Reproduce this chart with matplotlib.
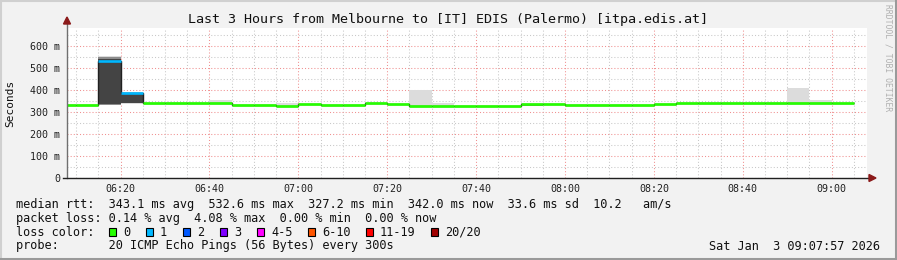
import numpy as np
import matplotlib
matplotlib.use('Agg')
import matplotlib.pyplot as plt
from matplotlib.patches import Rectangle, Polygon
from matplotlib.lines import Line2D
from matplotlib.ticker import MultipleLocator, FixedLocator, FixedFormatter

W, H = 897, 260
MONO = 'DejaVu Sans Mono'

# end time of each 5 minute sample
times = ["06:10", "06:15", "06:20", "06:25", "06:30", "06:35", "06:40", "06:45",
         "06:50", "06:55", "07:00", "07:05", "07:10", "07:15", "07:20", "07:25",
         "07:30", "07:35", "07:40", "07:45", "07:50", "07:55", "08:00", "08:05",
         "08:10", "08:15", "08:20", "08:25", "08:30", "08:35", "08:40", "08:45",
         "08:50", "08:55", "09:00", "09:05"]

# median rtt (seconds)
median = [0.332, 0.332, 0.5326, 0.387, 0.342, 0.342, 0.342, 0.342,
          0.331, 0.331, 0.328, 0.336, 0.331, 0.331, 0.339, 0.337,
          0.329, 0.328, 0.3272, 0.3272, 0.3272, 0.337, 0.337, 0.330,
          0.330, 0.330, 0.330, 0.336, 0.342, 0.342, 0.342, 0.342,
          0.342, 0.342, 0.342, 0.342]

# lost pings per sample (out of 20)
loss = [0, 0, 1, 1, 0, 0, 0, 0, 0, 0, 0, 0, 0, 0, 0, 0, 0, 0,
        0, 0, 0, 0, 0, 0, 0, 0, 0, 0, 0, 0, 0, 0, 0, 0, 0, 0]

nan = np.nan
# smoke: outer (light) band
light_lo = [nan, nan, 0.332, 0.338, nan, nan, nan, 0.340, nan, nan, 0.327, nan,
            nan, nan, nan, nan, 0.327, 0.326, nan, nan, nan, nan, 0.332, nan,
            nan, nan, nan, nan, nan, nan, nan, nan, nan, 0.340, 0.340, nan]
light_hi = [nan, nan, 0.556, 0.389, nan, nan, nan, 0.356, nan, nan, 0.341, nan,
            nan, nan, nan, nan, 0.401, 0.341, nan, nan, nan, nan, 0.338, nan,
            nan, nan, nan, nan, nan, nan, nan, nan, nan, 0.410, 0.354, nan]
# smoke: middle band
mid_lo = [nan, nan, 0.334, nan, nan, nan, nan, nan, nan, nan, nan, nan,
          nan, nan, nan, nan, nan, nan, nan, nan, nan, 0.329, nan, nan,
          nan, nan, nan, nan, nan, nan, nan, nan, nan, nan, nan, nan]
mid_hi = [nan, nan, 0.551, nan, nan, nan, nan, nan, nan, nan, nan, nan,
          nan, nan, nan, nan, nan, nan, nan, nan, nan, 0.336, nan, nan,
          nan, nan, nan, nan, nan, nan, nan, nan, nan, nan, nan, nan]
# smoke: dense (dark) band
dark_lo = [nan, nan, 0.335, 0.340, nan, nan, nan, nan, nan, nan, nan, nan,
           nan, nan, nan, 0.330, nan, nan, nan, nan, nan, nan, nan, nan,
           nan, nan, nan, nan, nan, nan, nan, nan, nan, nan, nan, nan]
dark_hi = [nan, nan, 0.541, 0.387, nan, nan, nan, nan, nan, nan, nan, nan,
           nan, nan, nan, 0.336, nan, nan, nan, nan, nan, nan, nan, nan,
           nan, nan, nan, nan, nan, nan, nan, nan, nan, nan, nan, nan]

loss_labels = ["0", "1", "2", "3", "4-5", "6-10", "11-19", "20/20"]
loss_colors = ['#26ff00', '#00b8ff', '#0059ff', '#7e00ff', '#ff00ff',
               '#ff5500', '#ff0000', '#a00000']
loss_bins = [0, 1, 2, 3, 5, 10, 19, 20]   # upper bound of each colour bucket

x_ticks = ["06:20", "06:40", "07:00", "07:20", "07:40", "08:00", "08:20", "08:40", "09:00"]
y_ticks = [0, 0.1, 0.2, 0.3, 0.4, 0.5, 0.6]
y_tick_labels = ["0", "100 m", "200 m", "300 m", "400 m", "500 m", "600 m"]

title = "Last 3 Hours from Melbourne to [IT] EDIS (Palermo) [itpa.edis.at]"
stat_lines = [
    "median rtt:  343.1 ms avg  532.6 ms max  327.2 ms min  342.0 ms now  33.6 ms sd  10.2   am/s",
    "packet loss: 0.14 % avg  4.08 % max  0.00 % min  0.00 % now",
]
probe_line = "probe:       20 ICMP Echo Pings (56 Bytes) every 300s"
stamp = "Sat Jan  3 09:07:57 2026"


def to_min(s):
    h, m = s.split(':')
    return int(h) * 60 + int(m)


def fx(x):
    return x / W


def fy(y):
    return 1 - y / H


t_end = np.array([to_min(t) for t in times], dtype=float)
t_start = t_end - 5
med = np.array(median)

fig = plt.figure(figsize=(W / 100, H / 100), dpi=100)
fig.patch.set_facecolor('#f2f2f2')

# plot area: x 67..867, y 28..178 (pixels)
ax = fig.add_axes([fx(67), fy(178), 800 / W, 150 / H])
ax.set_facecolor('white')
x_end = 9 * 60 + 7 + 57 / 60
ax.set_xlim(x_end - 180, x_end)
ax.set_ylim(0, 150 / 22 * 0.1)

# grid
ax.xaxis.set_major_locator(FixedLocator([to_min(t) for t in x_ticks]))
ax.xaxis.set_major_formatter(FixedFormatter(x_ticks))
ax.xaxis.set_minor_locator(MultipleLocator(5))
ax.yaxis.set_major_locator(FixedLocator(y_ticks))
ax.yaxis.set_major_formatter(FixedFormatter(y_tick_labels))
ax.yaxis.set_minor_locator(MultipleLocator(0.05))
ax.grid(which='minor', color='#c8c8c8', linestyle=(0, (1, 2)), linewidth=0.75)
ax.grid(which='major', color='#f09090', linestyle=(0, (1, 2)), linewidth=0.75)
ax.set_axisbelow(True)
ax.tick_params(which='both', length=0)
ax.tick_params(axis='y', pad=5, labelsize=7.2, labelcolor='#202020')
ax.tick_params(axis='x', pad=4, labelsize=7.2, labelcolor='#202020')
for lab in ax.get_xticklabels() + ax.get_yticklabels():
    lab.set_family(MONO)
for sp in ax.spines.values():
    sp.set_visible(False)


# smoke
def smoke(lo, hi, color):
    lo = np.array(lo)
    hi = np.array(hi)
    ok = ~np.isnan(lo)
    ax.bar(t_start[ok], hi[ok] - lo[ok], width=5, bottom=lo[ok], align='edge',
           color=color, linewidth=0, zorder=2)


smoke(light_lo, light_hi, '#dcdcdc')
smoke(mid_lo, mid_hi, '#8c8c8c')
smoke(dark_lo, dark_hi, '#444444')

# median: thin dark step line, then loss-coloured segments
edges = np.append(t_start[0], t_end)
ax.stairs(med, edges, baseline=None, color='#202020', linewidth=1.0, zorder=3)
colors = []
for l in loss:
    for b, c in zip(loss_bins, loss_colors):
        if l <= b:
            colors.append(c)
            break
ax.hlines(med, t_start, t_end, colors=colors, linewidth=1.9, zorder=4)

# axis lines with arrows
ax.add_artist(Line2D([0, 0], [0, 1 + 5 / 150], transform=ax.transAxes,
                     color='#707070', linewidth=1, clip_on=False, zorder=5))
ax.add_artist(Line2D([-4 / 800, 1 + 3 / 800], [0, 0], transform=ax.transAxes,
                     color='#202020', linewidth=1, clip_on=False, zorder=5))
fig.add_artist(Polygon([[fx(63.5), fy(24)], [fx(70.5), fy(24)], [fx(67), fy(17)]],
                       closed=True, color='#8b1a1a', transform=fig.transFigure))
fig.add_artist(Polygon([[fx(869), fy(174.5)], [fx(869), fy(181.5)], [fx(876), fy(178)]],
                       closed=True, color='#8b1a1a', transform=fig.transFigure))

# texts
fig.text(fx(448), fy(19.5), title, ha='center', va='center', family=MONO,
         fontsize=9.6, color='#101010')
fig.text(fx(10.5), fy(103), "Seconds", rotation=90, ha='center', va='center',
         family=MONO, fontsize=8, color='#101010')
fig.text(fx(888), fy(4), "RRDTOOL / TOBI OETIKER", rotation=270, ha='center',
         va='top', family=MONO, fontsize=5.8, color='#b0b0b0')

LEG = 8.55
fig.text(fx(16), fy(204.5), stat_lines[0], ha='left', va='center', family=MONO,
         fontsize=LEG, color='#101010')
fig.text(fx(16), fy(218.5), stat_lines[1], ha='left', va='center', family=MONO,
         fontsize=LEG, color='#101010')
fig.text(fx(16), fy(232.3), "loss color:", ha='left', va='center', family=MONO,
         fontsize=LEG, color='#101010')
box_x = [109, 146, 183, 220, 257, 308, 366, 431]
for bx, lab, c in zip(box_x, loss_labels, loss_colors):
    fig.add_artist(Rectangle((fx(bx), fy(235.8)), 7 / W, 7.5 / H, facecolor=c,
                             edgecolor='black', linewidth=0.8,
                             transform=fig.transFigure))
    fig.text(fx(bx + 14), fy(232.3), lab, ha='left', va='center', family=MONO,
             fontsize=LEG, color='#101010')
fig.text(fx(16), fy(246), probe_line, ha='left', va='center', family=MONO,
         fontsize=LEG, color='#101010')
fig.text(fx(880), fy(246), stamp, ha='right', va='center', family=MONO,
         fontsize=LEG, color='#101010')

# frame around the image
fig.add_artist(Line2D([0, 1], [fy(0.5), fy(0.5)], color='#d0d0d0', linewidth=1.5,
                      transform=fig.transFigure))
fig.add_artist(Line2D([fx(0.5), fx(0.5)], [0, 1], color='#d0d0d0', linewidth=1.5,
                      transform=fig.transFigure))
fig.add_artist(Line2D([fx(W - 1.5), fx(W - 1.5)], [0, 1], color='#9a9a9a',
                      linewidth=2.2, transform=fig.transFigure))
fig.add_artist(Line2D([0, 1], [fy(H - 1.5), fy(H - 1.5)], color='#9a9a9a',
                      linewidth=2.2, transform=fig.transFigure))

fig.savefig('out.png', dpi=100, facecolor=fig.get_facecolor())
